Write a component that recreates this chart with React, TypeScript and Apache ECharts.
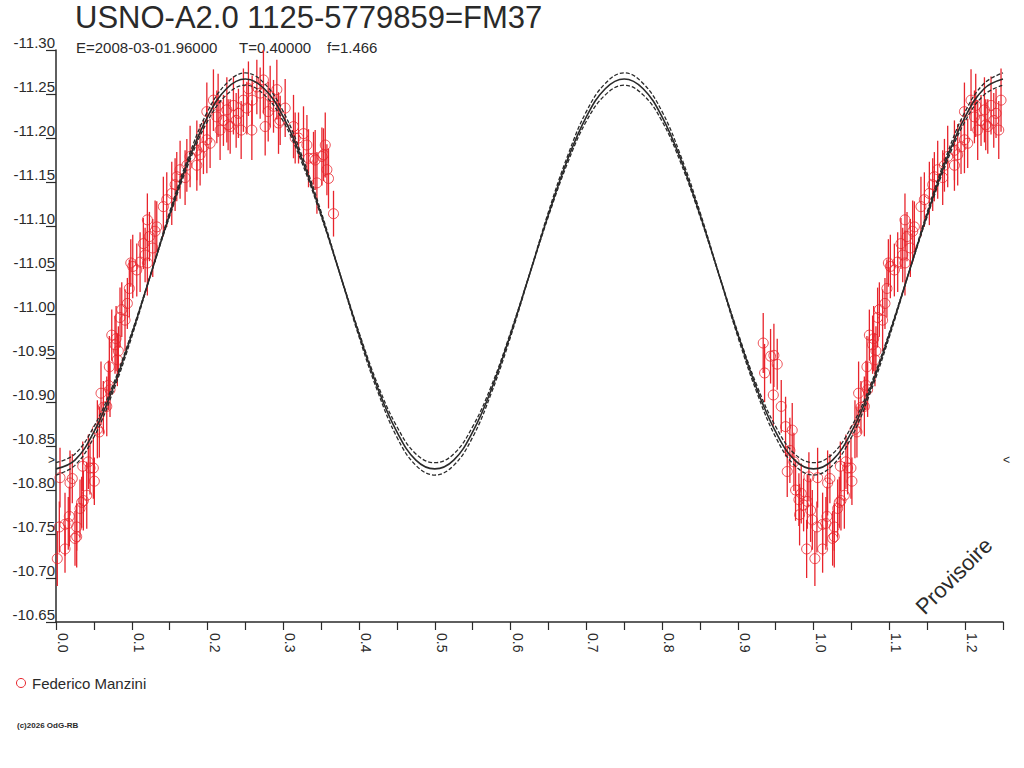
import React, { useEffect, useRef } from "react";
import * as echarts from "echarts";

const TITLE = "USNO-A2.0 1125-5779859=FM37";
const SUB_E = "E=2008-03-01.96000";
const SUB_T = "T=0.40000";
const SUB_F = "f=1.466";
const OBSERVER = "Federico Manzini";
const COPYRIGHT = "(c)2026 OdG-RB";
const WATERMARK = "Provisoire";
const REF_MAG = -10.834;

const RED = "#e8242c";
const INK = "#2a2a2a";
const FONT = '"Liberation Sans", Arial, sans-serif';

// observed phases, magnitudes and errors
const obsPhase = [
  0.0017, 0.0053, 0.0044, 0.0119, 0.0119, 0.0176, 0.0162, 0.0215, 0.0185, 0.0251,
  0.0273, 0.0273, 0.0317, 0.0339, 0.0361, 0.0353, 0.0406, 0.0449, 0.0427, 0.0493,
  0.0506, 0.0546, 0.0572, 0.0594, 0.0625, 0.0670, 0.0691, 0.0713, 0.0704, 0.0736,
  0.0779, 0.0793, 0.0810, 0.0823, 0.0845, 0.0868, 0.0911, 0.0942, 0.0968, 0.0987,
  0.1013, 0.1066, 0.1110, 0.1153, 0.1176, 0.1206, 0.1233, 0.1277, 0.1308, 0.1206,
  0.1330, 0.1417, 0.1462, 0.1528, 0.1594, 0.1638, 0.1727, 0.1770, 0.1859, 0.1859,
  0.1946, 0.1991, 0.2034, 0.1991, 0.2078, 0.2123, 0.2166, 0.2210, 0.2255, 0.2299,
  0.2342, 0.2408, 0.2474, 0.2519, 0.2585, 0.2651, 0.2695, 0.2738, 0.2761, 0.2827,
  0.2871, 0.2915, 0.2959, 0.3025, 0.3135, 0.3201, 0.3267, 0.3312, 0.3399, 0.3444,
  0.3510, 0.3554, 0.3576, 0.3597, 0.3663, 0.2540, 0.2937, 0.3157, 0.3333, 0.3421,
  0.3531, 0.2140, 0.2378, 0.2589, 0.2801, 0.2444, 0.2272, 0.1902, 0.1704, 0.1572,
  0.9335, 0.9432, 0.9476, 0.9520, 0.9353, 0.9468, 0.9573, 0.9630, 0.9718, 0.9687,
  0.9652, 0.9740, 0.9762, 0.9806, 0.9837, 0.9938, 0.9917, 0.9960, 0.9908, 0.9983,
  0.9868, 0.9815,
];
const obsMag = [
  -10.722, -10.814, -10.758, -10.761, -10.733, -10.770, -10.762, -10.813, -10.808, -10.745,
  -10.747, -10.758, -10.779, -10.786, -10.788, -10.827, -10.794, -10.825, -10.832, -10.825,
  -10.810, -10.869, -10.866, -10.910, -10.894, -10.895, -10.919, -10.914, -10.940, -10.976,
  -10.965, -10.972, -10.948, -10.958, -10.996, -11.005, -10.993, -11.012, -11.029, -11.058,
  -11.054, -11.050, -11.059, -11.080, -11.067, -11.058, -11.088, -11.075, -11.094, -11.107,
  -11.099, -11.122, -11.130, -11.137, -11.156, -11.164, -11.169, -11.179, -11.169, -11.186,
  -11.190, -11.198, -11.194, -11.230, -11.243, -11.224, -11.209, -11.220, -11.232, -11.213,
  -11.237, -11.228, -11.243, -11.234, -11.209, -11.258, -11.251, -11.266, -11.213, -11.247,
  -11.236, -11.255, -11.220, -11.234, -11.213, -11.200, -11.205, -11.192, -11.177, -11.149,
  -11.179, -11.192, -11.164, -11.154, -11.114, -11.256, -11.217, -11.200, -11.177, -11.175,
  -11.181, -11.237, -11.220, -11.243, -11.230, -11.209, -11.215, -11.181, -11.155, -11.147,
  -10.967, -10.952, -10.953, -10.943, -10.933, -10.908, -10.895, -10.872, -10.868, -10.845,
  -10.821, -10.832, -10.800, -10.789, -10.796, -10.815, -10.787, -10.777, -10.733, -10.766,
  -10.783, -10.772,
];
const obsErr = [
  0.031, 0.034, 0.029, 0.036, 0.027, 0.034, 0.030, 0.028, 0.037, 0.031,
  0.035, 0.027, 0.033, 0.029, 0.034, 0.028, 0.038, 0.030, 0.031, 0.035,
  0.027, 0.033, 0.029, 0.036, 0.030, 0.034, 0.028, 0.031, 0.035, 0.029,
  0.033, 0.037, 0.030, 0.028, 0.034, 0.031, 0.035, 0.029, 0.033, 0.027,
  0.036, 0.030, 0.034, 0.029, 0.031, 0.037, 0.028, 0.033, 0.035, 0.030,
  0.029, 0.034, 0.031, 0.036, 0.028, 0.033, 0.030, 0.035, 0.029, 0.034,
  0.031, 0.038, 0.028, 0.033, 0.035, 0.030, 0.034, 0.029, 0.037, 0.031,
  0.033, 0.028, 0.036, 0.030, 0.034, 0.031, 0.029, 0.038, 0.033, 0.035,
  0.030, 0.034, 0.028, 0.033, 0.036, 0.029, 0.031, 0.034, 0.030, 0.035,
  0.033, 0.037, 0.029, 0.034, 0.026, 0.031, 0.035, 0.029, 0.033, 0.034,
  0.030, 0.036, 0.031, 0.028, 0.034, 0.033, 0.029, 0.035, 0.031, 0.030,
  0.034, 0.031, 0.036, 0.029, 0.033, 0.035, 0.030, 0.034, 0.031, 0.037,
  0.029, 0.033, 0.035, 0.030, 0.034, 0.028, 0.031, 0.036, 0.033, 0.034,
  0.030, 0.035,
];

// fitted light curve (solid) and its envelope (dashed)
const curvePhase = [
  0, 0.025, 0.05, 0.075, 0.1, 0.125, 0.15, 0.175, 0.2, 0.225,
  0.25, 0.275, 0.3, 0.325, 0.35, 0.375, 0.4, 0.425, 0.45, 0.475,
  0.5, 0.525, 0.55, 0.575, 0.6, 0.625, 0.65, 0.675, 0.7, 0.725,
  0.75, 0.775, 0.8, 0.825, 0.85, 0.875, 0.9, 0.925, 0.95, 0.975,
  1.0, 1.025, 1.05, 1.075, 1.1, 1.125, 1.15, 1.175, 1.2, 1.225, 1.25,
];
const curveMid = [
  -10.824, -10.834, -10.866, -10.915, -10.977, -11.045, -11.113, -11.175, -11.224, -11.256,
  -11.267, -11.256, -11.224, -11.175, -11.113, -11.045, -10.977, -10.915, -10.866, -10.834,
  -10.824, -10.834, -10.866, -10.915, -10.977, -11.045, -11.113, -11.175, -11.224, -11.256,
  -11.267, -11.256, -11.224, -11.175, -11.113, -11.045, -10.977, -10.915, -10.866, -10.834,
  -10.824, -10.834, -10.866, -10.915, -10.977, -11.045, -11.113, -11.175, -11.224, -11.256, -11.267,
];
const curveOuter = [
  -10.817, -10.828, -10.860, -10.911, -10.974, -11.045, -11.116, -11.179, -11.230, -11.262,
  -11.274, -11.262, -11.230, -11.179, -11.116, -11.045, -10.974, -10.911, -10.860, -10.828,
  -10.817, -10.828, -10.860, -10.911, -10.974, -11.045, -11.116, -11.179, -11.230, -11.262,
  -11.274, -11.262, -11.230, -11.179, -11.116, -11.045, -10.974, -10.911, -10.860, -10.828,
  -10.817, -10.828, -10.860, -10.911, -10.974, -11.045, -11.116, -11.179, -11.230, -11.262, -11.274,
];
const curveInner = [
  -10.831, -10.841, -10.872, -10.919, -10.979, -11.045, -11.111, -11.171, -11.219, -11.249,
  -11.260, -11.249, -11.219, -11.171, -11.111, -11.045, -10.979, -10.919, -10.872, -10.841,
  -10.831, -10.841, -10.872, -10.919, -10.979, -11.045, -11.111, -11.171, -11.219, -11.249,
  -11.260, -11.249, -11.219, -11.171, -11.111, -11.045, -10.979, -10.919, -10.872, -10.841,
  -10.831, -10.841, -10.872, -10.919, -10.979, -11.045, -11.111, -11.171, -11.219, -11.249, -11.260,
];

const X_MIN = 0;
const X_MAX = 1.25;
const Y_MIN = -11.3;
const Y_MAX = -10.65;

function buildPoints() {
  const pts: number[][] = [];
  for (let i = 0; i < obsPhase.length; i++) {
    pts.push([obsPhase[i], obsMag[i], obsErr[i]]);
    if (obsPhase[i] + 1 <= X_MAX) pts.push([obsPhase[i] + 1, obsMag[i], obsErr[i]]);
  }
  return pts.filter((p) => p[0] >= X_MIN && p[0] <= X_MAX);
}

export default function App() {
  const ref = useRef<HTMLDivElement>(null);
  useEffect(() => {
    if (!ref.current) return;
    const chart = echarts.init(ref.current, null, { renderer: "svg" });
    const pts = buildPoints();
    const zip = (ys: number[]) => curvePhase.map((p, i) => [p, ys[i]]);
    chart.setOption({
      animation: false,
      backgroundColor: "#ffffff",
      grid: { left: 56, top: 50, right: 21, bottom: 146, containLabel: false },
      xAxis: {
        type: "value",
        min: X_MIN,
        max: X_MAX,
        interval: 0.05,
        splitLine: { show: false },
        axisLine: { show: true, onZero: false, lineStyle: { color: INK, width: 1.5 } },
        axisTick: { show: true, inside: false, length: 8, lineStyle: { color: INK, width: 1.2 } },
        axisLabel: {
          rotate: -90,
          margin: 11,
          verticalAlign: "bottom",
          color: INK,
          fontFamily: FONT,
          fontSize: 14,
          showMinLabel: true,
          showMaxLabel: true,
          formatter: (v: number) =>
            Math.abs(v * 10 - Math.round(v * 10)) < 1e-6 ? v.toFixed(1) : "",
        },
      },
      yAxis: {
        type: "value",
        inverse: true,
        min: Y_MIN,
        max: Y_MAX,
        interval: 0.05,
        splitLine: { show: false },
        axisLine: { show: true, onZero: false, lineStyle: { color: INK, width: 1.5 } },
        axisTick: { show: true, inside: false, length: 10, lineStyle: { color: INK, width: 1.2 } },
        axisLabel: {
          margin: 1,
          verticalAlign: "bottom",
          lineHeight: 15,
          color: INK,
          fontFamily: FONT,
          fontSize: 15,
          formatter: (v: number) => v.toFixed(2),
        },
      },
      series: [
        {
          type: "custom",
          name: "err",
          data: pts,
          encode: { x: 0, y: 1 },
          clip: true,
          z: 2,
          renderItem: (_params: any, api: any) => {
            const x = api.value(0);
            const y = api.value(1);
            const e = api.value(2);
            const a = api.coord([x, y - e]);
            const b = api.coord([x, y + e]);
            return {
              type: "line",
              shape: { x1: a[0], y1: a[1], x2: b[0], y2: b[1] },
              style: { stroke: RED, lineWidth: 1.3 },
            };
          },
        },
        {
          type: "scatter",
          name: OBSERVER,
          data: pts.map((p) => [p[0], p[1]]),
          symbol: "circle",
          symbolSize: 10,
          z: 3,
          itemStyle: { color: "rgba(0,0,0,0)", borderColor: RED, borderWidth: 1 },
        },
        {
          type: "line",
          data: zip(curveOuter),
          smooth: 0.4,
          showSymbol: false,
          z: 4,
          lineStyle: { color: INK, width: 1.3, type: [4, 2] },
        },
        {
          type: "line",
          data: zip(curveInner),
          smooth: 0.4,
          showSymbol: false,
          z: 4,
          lineStyle: { color: INK, width: 1.3, type: [4, 2] },
        },
        {
          type: "line",
          data: zip(curveMid),
          smooth: 0.4,
          showSymbol: false,
          z: 5,
          lineStyle: { color: INK, width: 1.6 },
        },
      ],
    });
    const refY = chart.convertToPixel({ yAxisIndex: 0 }, REF_MAG) as number;
    chart.setOption({
      graphic: [
        { type: "text", left: 75, top: 2, style: { text: TITLE, font: `31px ${FONT}`, fill: INK } },
        { type: "text", x: 76, y: 40, style: { text: SUB_E, font: `15px ${FONT}`, fill: INK } },
        { type: "text", x: 239, y: 40, style: { text: SUB_T, font: `15px ${FONT}`, fill: INK } },
        { type: "text", x: 327, y: 40, style: { text: SUB_F, font: `15px ${FONT}`, fill: INK } },
        { type: "text", x: 48, y: refY, style: { text: ">", font: `12px ${FONT}`, fill: INK, verticalAlign: "middle" } },
        { type: "text", x: 1003, y: refY, style: { text: "<", font: `12px ${FONT}`, fill: INK, verticalAlign: "middle" } },
        {
          type: "circle",
          shape: { cx: 21, cy: 683, r: 4.5 },
          style: { fill: "none", stroke: RED, lineWidth: 1 },
        },
        {
          type: "text",
          x: 32,
          y: 683,
          style: { text: OBSERVER, font: `15px ${FONT}`, fill: INK, verticalAlign: "middle" },
        },
        {
          type: "text",
          x: 17,
          y: 725,
          style: { text: COPYRIGHT, font: `bold 8px ${FONT}`, fill: INK, verticalAlign: "middle" },
        },
        {
          type: "text",
          x: 954,
          y: 576,
          rotation: Math.PI / 4,
          style: {
            text: WATERMARK,
            font: `22px ${FONT}`,
            fill: INK,
            align: "center",
            verticalAlign: "middle",
          },
        },
      ],
    });
    return () => chart.dispose();
  }, []);
  return (
    <div
      ref={ref}
      style={{ position: "fixed", left: 0, top: 0, width: 1024, height: 768, background: "#fff" }}
    />
  );
}
